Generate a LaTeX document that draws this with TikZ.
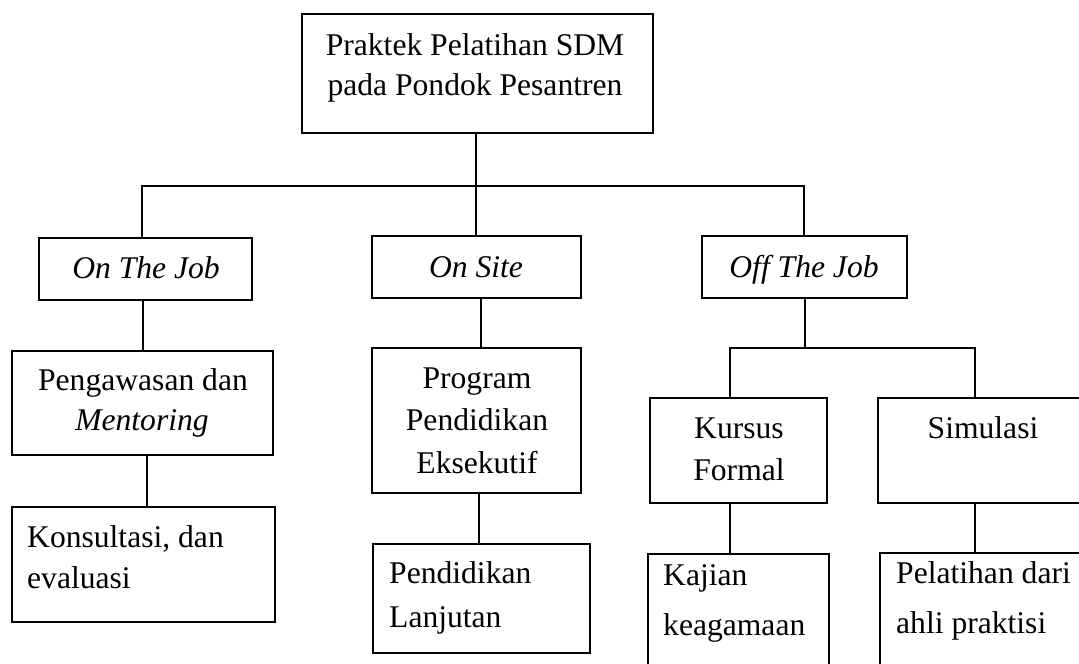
\documentclass[tikz,border=0pt]{standalone}
\usepackage{fontspec}
\setmainfont{Liberation Serif}
\usetikzlibrary{fit}
\begin{document}
\begin{tikzpicture}[x=1pt,y=-1pt,
  box/.style={draw=black, line width=2.5pt, inner sep=0pt, rectangle},
  wire/.style={draw=black, line width=2.5pt},
  lbl/.style={inner sep=0pt, anchor=base, font=\fontsize{31.6}{38}\selectfont},
  lbll/.style={lbl, anchor=base west}]
\useasboundingbox (0,0) rectangle (1079,664);
\clip (0,0) rectangle (1079,664);

% boxes
\node[box, fit={(302,14) (653,133)}] (top) {};
\node[box, fit={(39,238) (252,300)}] (otj) {};
\node[box, fit={(372,236) (581,298)}] (ons) {};
\node[box, fit={(702,236) (907,298)}] (off) {};
\node[box, fit={(12,351) (273,455)}] (peng) {};
\node[box, fit={(12,507) (275,622)}] (kons) {};
\node[box, fit={(372,348) (581,493)}] (prog) {};
\node[box, fit={(373,544) (590,653)}] (lanj) {};
\node[box, fit={(650,398) (827,503)}] (kurs) {};
\node[box, fit={(878,398) (1095,503)}] (simu) {};
\node[box, fit={(648,554) (829,690)}] (kaji) {};
\node[box, fit={(880,553) (1095,690)}] (pela) {};

% branch points
\coordinate (hub) at (476,186);
\coordinate (b1) at (142,186);
\coordinate (b3) at (804,186);
\coordinate (c1) at (143,0);
\coordinate (c2) at (147,0);
\coordinate (c3) at (481,0);
\coordinate (c4) at (479,0);
\coordinate (d0) at (805,348);
\coordinate (d1) at (730,348);
\coordinate (d2) at (975,348);

% connectors
\draw[wire] (hub |- top.south) -- (hub);
\draw[wire] (b1 |- otj.north) -- (b1) -- (b3) -- (b3 |- off.north);
\draw[wire] (hub) -- (hub |- ons.north);
\draw[wire] (c1 |- otj.south) -- (c1 |- peng.north);
\draw[wire] (c2 |- peng.south) -- (c2 |- kons.north);
\draw[wire] (c3 |- ons.south) -- (c3 |- prog.north);
\draw[wire] (c4 |- prog.south) -- (c4 |- lanj.north);
\draw[wire] (d0 |- off.south) -- (d0);
\draw[wire] (d1 |- kurs.north) -- (d1) -- (d2) -- (d2 |- simu.north);
\draw[wire] (d1 |- kurs.south) -- (d1 |- kaji.north);
\draw[wire] (d2 |- simu.south) -- (d2 |- pela.north);

% labels
\node[lbl] (t1) at (475,55) {Praktek Pelatihan SDM};
\node[lbl] (t2) at (475,95) {pada Pondok Pesantren};
\node[lbl] (t3) at (146,278) {\itshape On The Job};
\node[lbl] (t4) at (476,277) {\itshape On Site};
\node[lbl] (t5) at (804,277) {\itshape Off The Job};
\node[lbl] (t6) at (143,390) {Pengawasan dan};
\node[lbl] (t7) at (142,430) {\itshape Mentoring};
\node[lbll] (t8) at (27,547) {Konsultasi, dan};
\node[lbll] (t9) at (27,588) {evaluasi};
\node[lbl] (t10) at (477,388) {Program};
\node[lbl] (t11) at (477,430) {Pendidikan};
\node[lbl] (t12) at (477,473) {Eksekutif};
\node[lbll] (t13) at (389,583) {Pendidikan};
\node[lbll] (t14) at (389,627) {Lanjutan};
\node[lbl] (t15) at (739,438) {Kursus};
\node[lbl] (t16) at (739,480) {Formal};
\node[lbl] (t17) at (983,438) {Simulasi};
\node[lbll] (t18) at (663,585) {Kajian};
\node[lbll] (t19) at (663,635) {keagamaan};
\node[lbll] (t20) at (896,583) {Pelatihan dari};
\node[lbll] (t21) at (896,633) {ahli praktisi};
\end{tikzpicture}
\end{document}
